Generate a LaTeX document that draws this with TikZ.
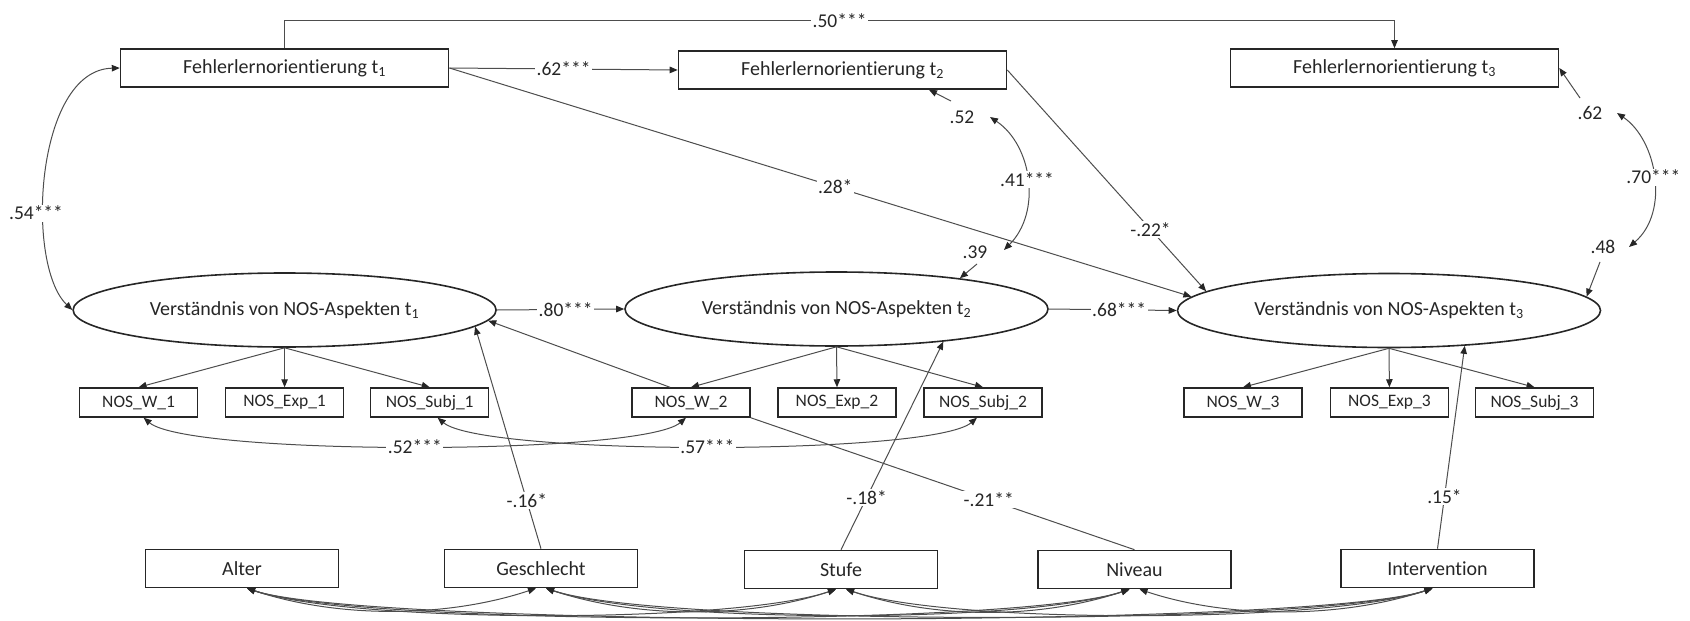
\documentclass[tikz,border=0pt]{standalone}
\usepackage{fontspec}
\setmainfont{Carlito}[Ligatures=NoCommon]
\usetikzlibrary{arrows.meta,shapes.geometric,calc}
\definecolor{ink}{HTML}{262626}
\definecolor{wire}{HTML}{4d4d4d}

\begin{document}
\begin{tikzpicture}[x=1pt,y=-1pt,
  >={Triangle[length=8pt,width=6.5pt,color=ink]},
  font=\fontsize{20}{24}\selectfont, text=ink,
  regr/.style={draw=wire,line width=1pt,->},
  corr/.style={draw=wire,line width=1pt,<->},
  plainln/.style={draw=wire,line width=1pt},
  coef/.style={fill=white,inner sep=1.5pt,font=\fontsize{19.5}{22}\selectfont},
  resid/.style={inner sep=1pt,font=\fontsize{19.5}{22}\selectfont},
  fbox/.style={draw=ink,line width=1.6pt,minimum width=328pt,minimum height=38pt,inner sep=0pt},
  latent/.style={ellipse,draw=ink,line width=1.6pt,minimum width=423pt,minimum height=74pt,inner sep=0pt},
  indic/.style={draw=ink,line width=1.5pt,minimum width=118pt,minimum height=29pt,inner sep=0pt,font=\fontsize{17.5}{20}\selectfont},
  exo/.style={draw=ink,line width=1.6pt,minimum width=193pt,minimum height=38pt,inner sep=0pt},
]
\useasboundingbox (0,0) rectangle (1690,621);

% Fehlerlernorientierung (manifest)
\node[fbox] (f1) at (284.6,68) {Fehlerlernorientierung t\textsubscript{1}};
\node[fbox] (f2) at (842.5,70) {Fehlerlernorientierung t\textsubscript{2}};
\node[fbox] (f3) at (1394.5,68) {Fehlerlernorientierung t\textsubscript{3}};

% latent NOS understanding
\node[latent] (v1) at (284.6,310) {Verständnis von NOS-Aspekten t\textsubscript{1}};
\node[latent] (v2) at (836.5,309) {Verständnis von NOS-Aspekten t\textsubscript{2}};
\node[latent] (v3) at (1389,310.5) {Verständnis von NOS-Aspekten t\textsubscript{3}};

% indicators
\node[indic] (nw1) at (138.6,402.5) {NOS\_W\_1};
\node[indic] (ne1) at (284.6,402.5) {NOS\_Exp\_1};
\node[indic] (ns1) at (429.7,402.5) {NOS\_Subj\_1};
\node[indic] (nw2) at (691,402.5) {NOS\_W\_2};
\node[indic] (ne2) at (837,402.5) {NOS\_Exp\_2};
\node[indic] (ns2) at (983,402.5) {NOS\_Subj\_2};
\node[indic] (nw3) at (1243,402.5) {NOS\_W\_3};
\node[indic] (ne3) at (1389.4,402.5) {NOS\_Exp\_3};
\node[indic] (ns3) at (1534.5,402.5) {NOS\_Subj\_3};

% covariates
\node[exo] (alter)  at (242,568.5) {Alter};
\node[exo] (gesch)  at (541,568.5) {Geschlecht};
\node[exo] (stufe)  at (841,569.5) {Stufe};
\node[exo] (niveau) at (1134.5,569.5) {Niveau};
\node[exo] (interv) at (1437.5,568.5) {Intervention};

% residual variances
\node[resid] (ef2) at (962,117) {.52};
\node[resid] (ev2) at (975,252) {.39};
\node[resid] (ef3) at (1590,113) {.62};
\node[resid] (ev3) at (1603,247) {.48};
\coordinate (ef2s) at (951,101);
\coordinate (ev2s) at (977,264);
\coordinate (ef3s) at (1580,98);
\coordinate (ev3s) at (1600,262);
\coordinate (r41a) at (990,117);
\coordinate (r41b) at (1004,250);
\coordinate (r70a) at (1617,113);
\coordinate (r70b) at (1629,247);

\draw[regr] (ef2s) -- ($(f2.south)+(86.5,0)$);
\draw[regr] (ev2s) -- (v2.14);
\draw[regr] (ef3s) -- (f3.east);
\draw[regr] (ev3s) -- (v3.4);
\draw[corr] (r41a) .. controls (1032,145) and (1042,212) .. node[coef]{.41***} (r41b);
\draw[corr] (r70a) .. controls (1657,140) and (1670,212) .. node[coef]{.70***} (r70b);

% stability and cross-lagged paths
\draw[regr] (f1.north) -- ++(0,-28) -| node[coef,pos=0.25]{.50***} (f3.north);
\draw[regr] (f1.east) -- node[coef,pos=0.5]{.62***} (f2.west);
\draw[regr] (f1.east) -- node[coef,pos=0.52]{.28*} (v3.176);
\draw[regr] (f2.east) -- node[coef,pos=0.72]{-.22*} (v3.174);
\draw[regr] (v1.east) -- node[coef,pos=0.54]{.80***} (v2.west);
\draw[regr] (v2.east) -- node[coef,pos=0.55]{.68***} (v3.west);

% t1 correlation
\draw[corr] (f1.west) .. controls (35,70) and (25,265) .. (v1.west);
\node[coef] (c54) at (36,213) {.54***};

% measurement model
\foreach \v/\a/\b/\c in {v1/nw1/ne1/ns1, v2/nw2/ne2/ns2, v3/nw3/ne3/ns3}{
  \draw[regr] (\v.south) -- (\a.north);
  \draw[regr] (\v.south) -- (\b.north);
  \draw[regr] (\v.south) -- (\c.north);
}
\draw[regr] ($(nw2.north)+(-21,0)$) -- (v1.-3);

% indicator residual correlations
\draw[corr] ($(nw1.south)+(5,0)$) .. controls +(45,38) and +(-45,38) .. node[coef]{.52***} ($(nw2.south)+(-5,0)$);
\draw[corr] ($(ns1.south)+(8,0)$) .. controls +(45,38) and +(-45,38) .. node[coef]{.57***} ($(ns2.south)+(-6,0)$);

% covariate effects
\draw[regr] (gesch.north) -- node[coef,pos=0.215]{-.16*} (v1.-5);
\draw[regr] (stufe.north) -- node[coef,pos=0.25]{-.18*} (v2.-17);
\draw[plainln] (nw2.south east) -- node[coef,pos=0.62]{-.21**} (niveau.north);
\draw[regr] (interv.north) -- node[coef,pos=0.255]{.15*} (v3.-25);

% covariate intercorrelations
\foreach \a/\b/\d in {alter/gesch/30, alter/stufe/35, alter/niveau/38, alter/interv/40,
                      gesch/stufe/30, gesch/niveau/35, gesch/interv/38,
                      stufe/niveau/30, stufe/interv/35, niveau/interv/30}{
  \draw[corr] ($(\a.south)+(5,0)$) .. controls +(3*\d,\d) and +(-3*\d,\d) .. ($(\b.south)+(-5,0)$);
}
\end{tikzpicture}
\end{document}
